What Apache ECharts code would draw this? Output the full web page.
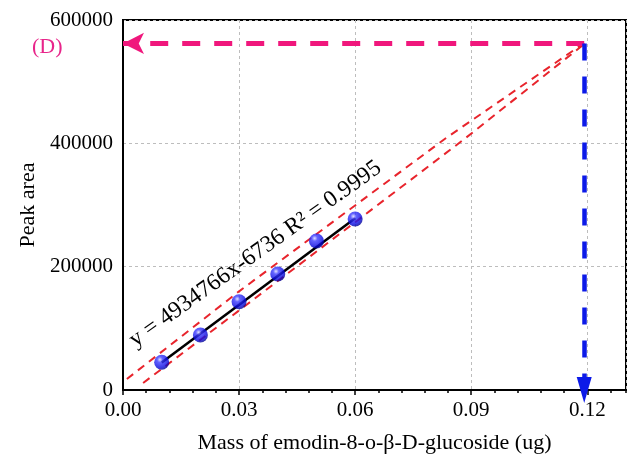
<!DOCTYPE html>
<html>
<head>
<meta charset="utf-8">
<script src="https://cdn.jsdelivr.net/npm/echarts@6/dist/echarts.min.js"></script>
<style>
html,body{margin:0;padding:0;background:#fff;}
#chart{width:635px;height:465px;}
</style>
</head>
<body>
<div id="chart"></div>
<script>
// ---- data ----
const massX = [0.01, 0.02, 0.03, 0.04, 0.05, 0.06];
const peakArea = [44900, 89200, 143200, 188100, 241600, 277300];
const fitX = [0.01, 0.06];
const fitY = [44500, 278500];
const upperX = [0.001, 0.03, 0.0835, 0.1192];
const upperY = [17800, 160000, 408600, 562700];
const lowerX = [0.0052, 0.03, 0.0879, 0.1192];
const lowerY = [11400, 129000, 405400, 561000];
const sampleX = 0.1192;          // read-off mass
const sampleY = 562000;          // read-off peak area
const xTickValues = [0, 0.03, 0.06, 0.09, 0.12];
const yTickValues = [0, 200000, 400000, 600000];
const equationText = 'y = 4934766x-6736 R\u00B2 = 0.9995';
const equationAt = [0.0342, 220600];
const panelLabel = '(D)';

const SERIF = "'Liberation Serif','Times New Roman',serif";
const pairs = (xs, ys) => xs.map((x, i) => [x, ys[i]]);

const chart = echarts.init(document.getElementById('chart'), null, {renderer: 'canvas'});

const sphere = {
  type: 'radial', x: 0.38, y: 0.32, r: 0.75,
  colorStops: [
    {offset: 0, color: '#d8d8ff'},
    {offset: 0.25, color: '#3c3cff'},
    {offset: 0.7, color: '#0a0ae0'},
    {offset: 1, color: '#00007a'}
  ]
};

const option = {
  animation: false,
  backgroundColor: '#fff',
  title: {
    text: panelLabel, left: 27, top: 31,
    textStyle: {fontFamily: SERIF, fontSize: 22, fontWeight: 'normal', color: '#e8258a'}
  },
  grid: {left: 123, right: 9, top: 20, bottom: 75, show: true, borderColor: '#000', borderWidth: 2},
  xAxis: [{
    type: 'value', min: 0, max: 0.13, interval: 0.03,
    name: 'Mass of emodin-8-o-\u03B2-D-glucoside (ug)',
    nameLocation: 'middle', nameGap: 42,
    nameTextStyle: {fontFamily: SERIF, fontSize: 22, color: '#000'},
    axisLine: {show: true, lineStyle: {color: '#000', width: 2}},
    axisTick: {show: true, length: 5, lineStyle: {color: '#000', width: 1.5}},
    axisLabel: {
      show: true, margin: 10, showMaxLabel: false,
      fontFamily: SERIF, fontSize: 21, color: '#000',
      formatter: v => (xTickValues.some(t => Math.abs(t - v) < 1e-9) ? v.toFixed(2) : '')
    },
    splitLine: {show: true, lineStyle: {color: '#bdbdbd', type: [3, 3], width: 1}}
  }, {
    type: 'value', min: 0, max: 0.13, interval: 0.006, position: 'bottom',
    axisLine: {show: false},
    axisTick: {show: true, length: 3, lineStyle: {color: '#000', width: 1.5}},
    axisLabel: {show: false},
    splitLine: {show: false}
  }],
  yAxis: [{
    type: 'value', min: 0, max: 600000, interval: 200000,
    name: 'Peak area', nameLocation: 'middle', nameGap: 80,
    nameTextStyle: {fontFamily: SERIF, fontSize: 22, color: '#000'},
    axisLine: {show: true, lineStyle: {color: '#000', width: 2}},
    axisTick: {show: false},
    axisLabel: {
      margin: 10, fontFamily: SERIF, fontSize: 21, color: '#000',
      formatter: v => (yTickValues.indexOf(v) >= 0 ? String(v) : '')
    },
    splitLine: {show: true, lineStyle: {color: '#bdbdbd', type: [3, 3], width: 1}}
  }],
  series: [
    {
      name: 'upper', type: 'line', data: pairs(upperX, upperY), symbol: 'none', z: 3,
      lineStyle: {color: '#e8242c', width: 2, type: [8, 6]}, silent: true
    },
    {
      name: 'lower', type: 'line', data: pairs(lowerX, lowerY), symbol: 'none', z: 3,
      lineStyle: {color: '#e8242c', width: 2, type: [8, 6]}, silent: true
    },
    {
      name: 'fit', type: 'line', data: pairs(fitX, fitY), symbol: 'none', z: 4,
      lineStyle: {color: '#000', width: 2.6}, silent: true
    },
    {
      name: 'points', type: 'scatter', data: pairs(massX, peakArea), z: 6,
      symbol: 'circle', symbolSize: 15,
      itemStyle: {color: sphere, borderWidth: 0}, silent: true
    },
    {
      name: 'guides', type: 'line', data: [], z: 5, clip: false, silent: true,
      markLine: {
        silent: true, animation: false,
        label: {show: false},
        data: [
          [
            {coord: [sampleX, sampleY], symbol: 'none',
             lineStyle: {color: '#f0177c', width: 5, type: [18, 14]}},
            {coord: [0, sampleY], symbol: 'arrow', symbolSize: [16, 21]}
          ],
          [
            {coord: [sampleX, sampleY], symbol: 'none',
             lineStyle: {color: '#0c1ae8', width: 4.5, type: [17, 16]}},
            {coord: [sampleX, 0], symbol: 'triangle', symbolSize: [15, 26]}
          ]
        ]
      }
    }
  ]
};
chart.setOption(option);

const pos = chart.convertToPixel({xAxisIndex: 0, yAxisIndex: 0}, equationAt);
chart.setOption({
  graphic: [{
    type: 'text', x: pos[0], y: pos[1], rotation: 35.5 * Math.PI / 180, z: 10,
    style: {
      text: equationText, fontFamily: SERIF, fontSize: 23.5, fill: '#000',
      align: 'center', verticalAlign: 'middle'
    }
  }]
});
</script>
</body>
</html>
